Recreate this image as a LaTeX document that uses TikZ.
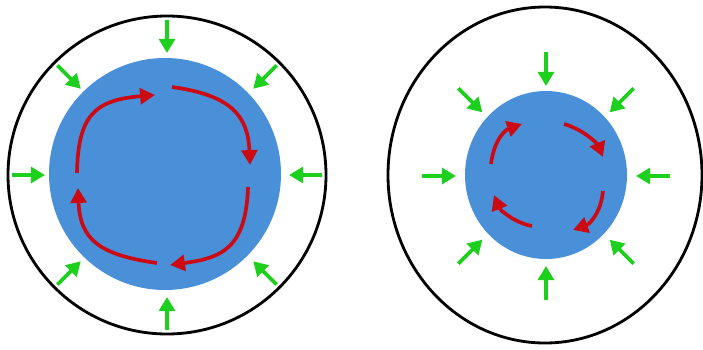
\documentclass[tikz,border=0pt]{standalone}
\usepackage{tikz}
\usetikzlibrary{arrows.meta,calc}
\definecolor{cellblue}{HTML}{4A90D9}
\definecolor{pushgreen}{HTML}{1ED01E}
\definecolor{flowred}{HTML}{CC0A14}

\begin{document}
\begin{tikzpicture}[
  x=0.02cm, y=-0.02cm,
  rim/.style={draw=black,line width=1.6pt},
  core/.style={fill=cellblue},
  push/.style={-{Triangle[length=8pt,width=9pt]},line width=2.2pt,color=pushgreen},
  flow/.style={-{Triangle[length=8.5pt,width=9pt]},line width=2.1pt,color=flowred},
]
  \useasboundingbox[fill=white] (0,0) rectangle (703,349);

  % left: wide shell
  \coordinate (lc) at (167,175);
  \draw[rim] (lc) circle[radius=159];
  \fill[core] (165,174) circle[radius=116];
  \foreach \a in {0,45,...,315}
    \draw[push] ($(lc)+(\a:155)$) -- ($(lc)+(\a:122)$);

  \draw[flow] (77,173) .. controls (78,115) and (95,100) .. (155,95);
  \draw[flow] (172,87) .. controls (230,95) and (248,115) .. (250,165);
  \draw[flow] (248,187) .. controls (246,250) and (220,258) .. (170,265);
  \draw[flow] (157,263) .. controls (100,255) and (80,240) .. (78,188);

  % right: small core
  \coordinate (rc) at (546,176);
  \draw[rim] (545,175) ellipse[x radius=157,y radius=168];
  \fill[core] (546,175) ellipse[x radius=81,y radius=84];
  \foreach \a in {0,45,...,315}
    \draw[push] ($(rc)+(\a:124)$) -- ($(rc)+(\a:90)$);

  \draw[flow] (491,164) .. controls (494,140) and (505,130) .. (522,124);
  \draw[flow] (564,124) .. controls (585,130) and (598,145) .. (603,157);
  \draw[flow] (603,191) .. controls (601,212) and (590,224) .. (573,230);
  \draw[flow] (532,226) .. controls (515,223) and (500,210) .. (494,195);
\end{tikzpicture}
\end{document}
